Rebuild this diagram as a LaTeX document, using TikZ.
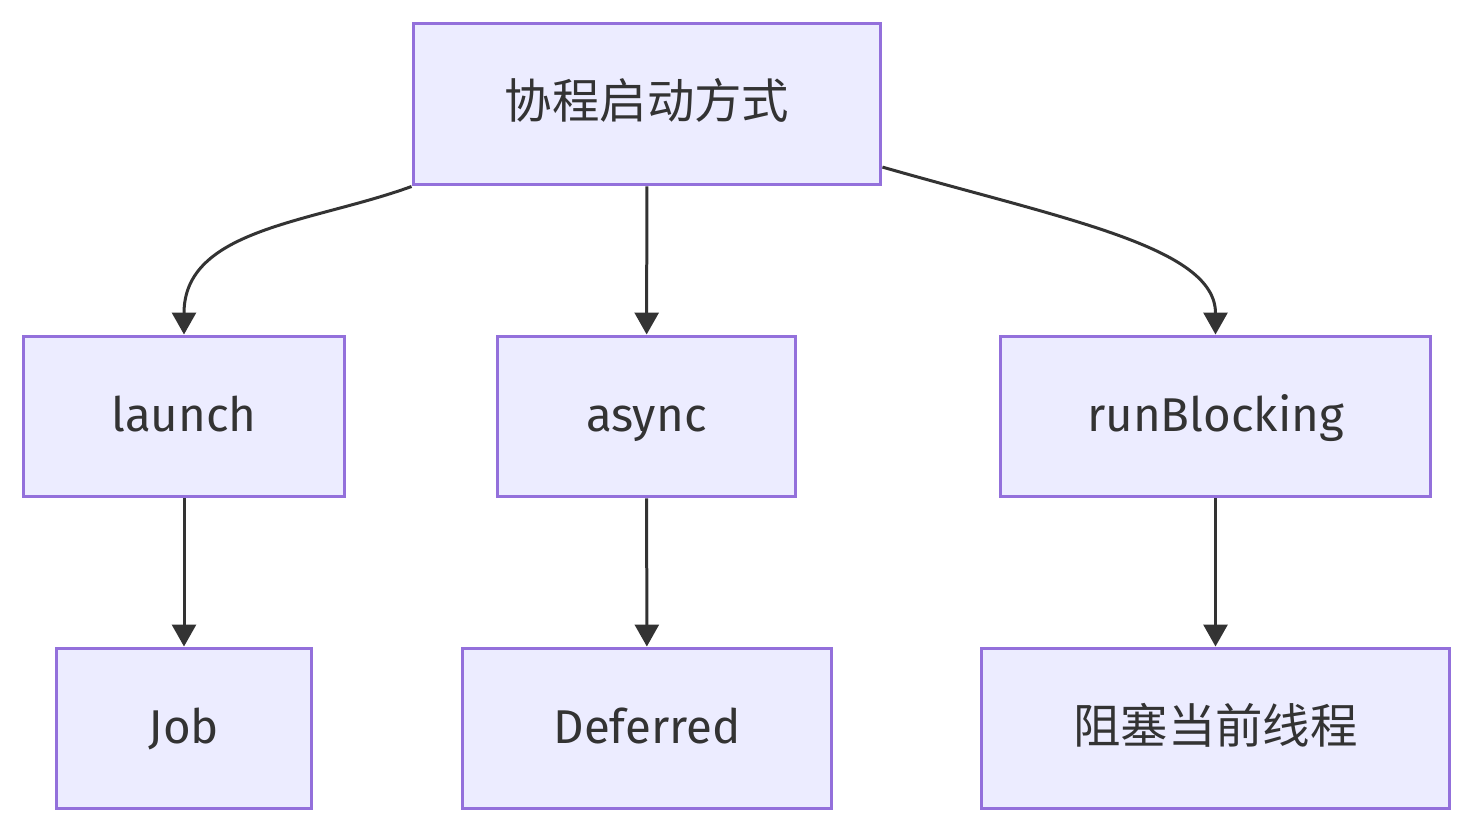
\documentclass[tikz,border=0pt]{standalone}
\usepackage{fontspec}
\setmainfont{Fira Sans}
\newfontfamily\cjk{Noto Sans CJK SC}
\usetikzlibrary{arrows.meta}
\definecolor{boxfill}{HTML}{ECECFF}
\definecolor{boxline}{HTML}{9370DB}
\definecolor{ink}{HTML}{333333}
\tikzset{
  box/.style={draw=boxline, fill=boxfill, line width=0.06cm, minimum height=3.22cm,
    inner sep=0pt, text=ink, text height=25pt, text depth=8pt,
    font=\fontsize{27}{32}\selectfont},
  arr/.style={draw=ink, line width=0.06cm, -{Triangle[length=0.44cm,width=0.48cm]}}
}
\begin{document}
\begin{tikzpicture}[x=0.02cm,y=-0.02cm]
\useasboundingbox (0,0) rectangle (1474,834);
\node[box, minimum width=9.36cm, minimum height=3.24cm] (start) at (647,104) {\cjk 协程启动方式};

\node[box, minimum width=6.44cm] (launch) at (184,416.5) {launch};
\node[box, minimum width=5.98cm] (async) at (646.5,416.5) {async};
\node[box, minimum width=8.62cm] (block) at (1215.5,416.5) {runBlocking};

\node[box, minimum width=5.12cm] (job) at (184,728.5) {Job};
\node[box, minimum width=7.40cm] (deferred) at (647,728.5) {Deferred};
\node[box, minimum width=9.38cm] (thread) at (1215.5,728.5) {\cjk 阻塞当前线程};

\draw[arr] (start.south west) to[out=200, in=90] (launch.north);
\draw[arr] (start) -- (async);
\draw[arr] (start.-15.75) to[out=-16, in=90, out looseness=1.3, in looseness=0.6] (block.north);

\draw[arr] (launch) -- (job);
\draw[arr] (async) -- (deferred);
\draw[arr] (block) -- (thread);
\end{tikzpicture}
\end{document}
